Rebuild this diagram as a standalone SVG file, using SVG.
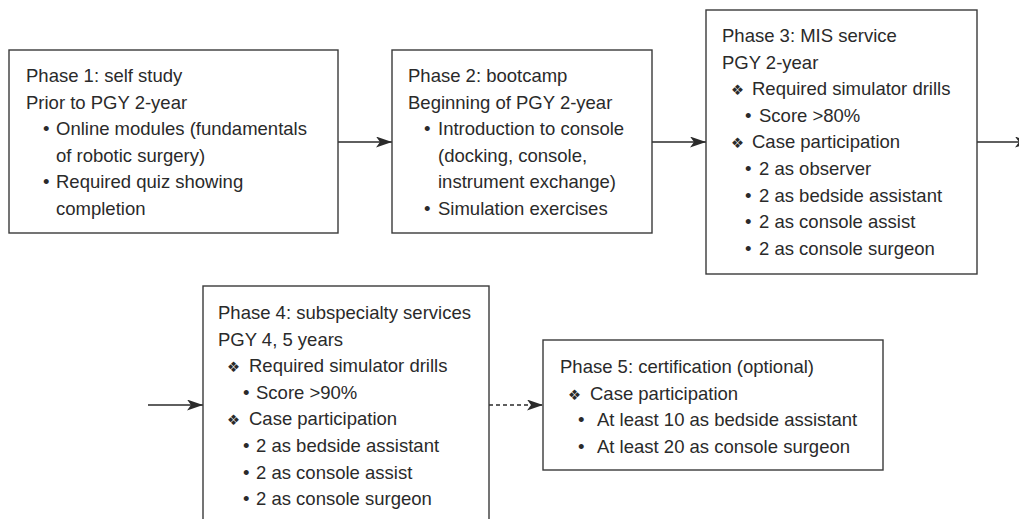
<svg xmlns="http://www.w3.org/2000/svg" width="1019" height="519" viewBox="0 0 1019 519">
<defs>
<style>
.box{fill:#fff;stroke:#3a3a3a;stroke-width:1.4}
.t{font-family:"Liberation Sans",Arial,Helvetica,sans-serif;font-size:18.5px;fill:#2a2a2a}
.d{font-family:"DejaVu Sans",sans-serif;font-size:14.5px;fill:#2a2a2a}
.c{stroke:#2a2a2a;stroke-width:1.4;fill:none}
.dash{stroke-dasharray:4 3}
</style>
<marker id="ah" viewBox="0 0 16 11" refX="16" refY="5.5" markerWidth="16" markerHeight="11" markerUnits="userSpaceOnUse" orient="auto">
<path d="M0,0 L16,5.5 L0,11 L4,5.5 Z" fill="#2a2a2a"/>
</marker>
</defs>
<rect width="1019" height="519" fill="#fff"/>

<g id="connectors">
<line class="c" x1="338" y1="142" x2="392" y2="142" marker-end="url(#ah)"/>
<line class="c" x1="652" y1="142" x2="706" y2="142" marker-end="url(#ah)"/>
<line class="c" x1="977" y1="142" x2="1031" y2="142" marker-end="url(#ah)"/>
<line class="c" x1="148" y1="405" x2="203" y2="405" marker-end="url(#ah)"/>
<line class="c dash" x1="489" y1="405" x2="543" y2="405" marker-end="url(#ah)"/>
</g>

<g id="phase1">
<rect class="box" x="9" y="50" width="329" height="183"/>
<text class="t" x="26" y="82">Phase 1: self study</text>
<text class="t" x="26" y="108.6">Prior to PGY 2-year</text>
<text class="t" x="43" y="135.2">•</text>
<text class="t" x="56" y="135.2">Online modules (fundamentals</text>
<text class="t" x="56" y="161.8">of robotic surgery)</text>
<text class="t" x="43" y="188.4">•</text>
<text class="t" x="56" y="188.4">Required quiz showing</text>
<text class="t" x="56" y="215">completion</text>
</g>

<g id="phase2">
<rect class="box" x="392" y="50" width="260" height="183"/>
<text class="t" x="408" y="82">Phase 2: bootcamp</text>
<text class="t" x="408" y="108.6">Beginning of PGY 2-year</text>
<text class="t" x="424" y="135.2">•</text>
<text class="t" x="438" y="135.2">Introduction to console</text>
<text class="t" x="438" y="161.8">(docking, console,</text>
<text class="t" x="438" y="188.4">instrument exchange)</text>
<text class="t" x="424" y="215">•</text>
<text class="t" x="438" y="215">Simulation exercises</text>
</g>

<g id="phase3">
<rect class="box" x="706" y="10" width="271" height="264"/>
<text class="t" x="722" y="42">Phase 3: MIS service</text>
<text class="t" x="722" y="68.6">PGY 2-year</text>
<text class="d" x="731" y="95.2">❖</text>
<text class="t" x="752" y="95.2">Required simulator drills</text>
<text class="t" x="745" y="121.8">•</text>
<text class="t" x="759" y="121.8">Score &gt;80%</text>
<text class="d" x="731" y="148.4">❖</text>
<text class="t" x="752" y="148.4">Case participation</text>
<text class="t" x="745" y="175">•</text>
<text class="t" x="759" y="175">2 as observer</text>
<text class="t" x="745" y="201.6">•</text>
<text class="t" x="759" y="201.6">2 as bedside assistant</text>
<text class="t" x="745" y="228.2">•</text>
<text class="t" x="759" y="228.2">2 as console assist</text>
<text class="t" x="745" y="254.8">•</text>
<text class="t" x="759" y="254.8">2 as console surgeon</text>
</g>

<g id="phase4">
<rect class="box" x="203" y="286" width="286" height="240"/>
<text class="t" x="218" y="319">Phase 4: subspecialty services</text>
<text class="t" x="218" y="345.6">PGY 4, 5 years</text>
<text class="d" x="227" y="372.2">❖</text>
<text class="t" x="249" y="372.2">Required simulator drills</text>
<text class="t" x="243" y="398.8">•</text>
<text class="t" x="256" y="398.8">Score &gt;90%</text>
<text class="d" x="227" y="425.4">❖</text>
<text class="t" x="249" y="425.4">Case participation</text>
<text class="t" x="243" y="452">•</text>
<text class="t" x="256" y="452">2 as bedside assistant</text>
<text class="t" x="243" y="478.6">•</text>
<text class="t" x="256" y="478.6">2 as console assist</text>
<text class="t" x="243" y="505.2">•</text>
<text class="t" x="256" y="505.2">2 as console surgeon</text>
</g>

<g id="phase5">
<rect class="box" x="543" y="340" width="340" height="130"/>
<text class="t" x="560" y="373">Phase 5: certification (optional)</text>
<text class="d" x="568" y="399.6">❖</text>
<text class="t" x="590" y="399.6">Case participation</text>
<text class="t" x="578" y="426.2">•</text>
<text class="t" x="597" y="426.2">At least 10 as bedside assistant</text>
<text class="t" x="578" y="452.8">•</text>
<text class="t" x="597" y="452.8">At least 20 as console surgeon</text>
</g>
</svg>
